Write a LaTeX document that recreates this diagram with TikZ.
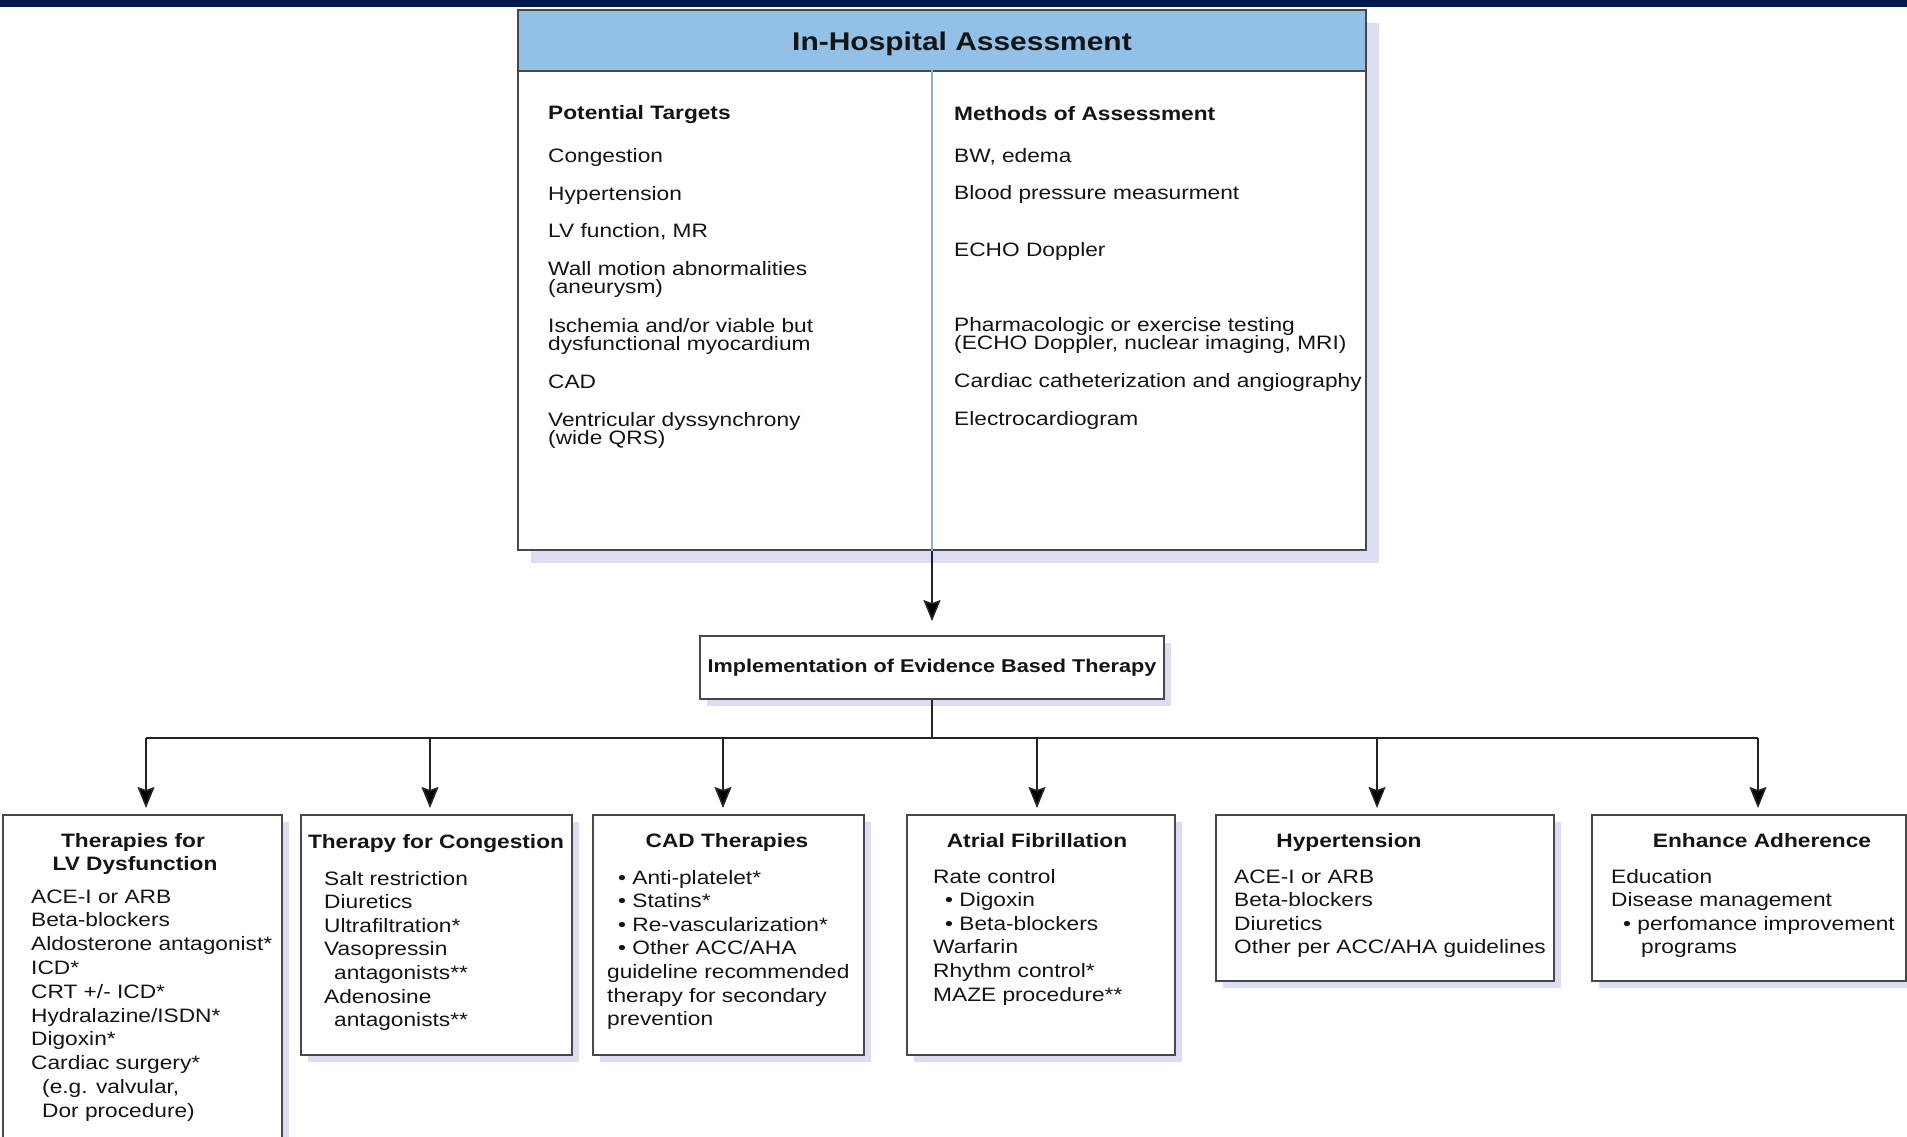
\documentclass[tikz,border=0pt]{standalone}
\usepackage{fontspec}
\setmainfont{Liberation Sans}[FakeStretch=1.17]
\usetikzlibrary{arrows.meta,shadows}
\definecolor{navy}{RGB}{0,26,80}
\definecolor{headblue}{RGB}{146,192,230}
\definecolor{shadowcol}{RGB}{220,220,242}
\definecolor{bordercol}{RGB}{72,72,72}
\definecolor{conncol}{RGB}{35,35,35}
\definecolor{divcol}{RGB}{140,180,210}
\definecolor{inkcol}{RGB}{20,20,20}
\begin{document}
\begin{tikzpicture}[x=1pt,y=-1pt,
  panel/.style={draw=bordercol, line width=1.8pt, fill=white, inner sep=0pt, anchor=north west,
    drop shadow={shadow xshift=#1, shadow yshift=-#1, fill=shadowcol, opacity=1}},
  panel/.default=7pt,
  item/.style={anchor=base west, inner sep=0pt, text=inkcol, font=\fontsize{19.4}{19}\selectfont},
  head/.style={anchor=base, inner sep=0pt, text=inkcol, font=\fontsize{19.4}{19}\selectfont\bfseries},
  headw/.style={anchor=base west, inner sep=0pt, text=inkcol, font=\fontsize{19.4}{19}\selectfont\bfseries},
  conn/.style={draw=conncol, line width=1.6pt},
  arr/.style={conn, -{Stealth[length=21pt,width=17pt,inset=3pt,fill=black]}},
]
\useasboundingbox (0,0) rectangle (1907,1136);
\clip (0,0) rectangle (1907,1136);

% top navy band
\fill[navy] (0,0) rectangle (1907,7);

% main assessment box
\node[panel=13pt, minimum width=848pt, minimum height=540pt] (main) at (517,9) {};
\node[draw=bordercol, line width=1.8pt, fill=headblue, anchor=north west, inner sep=0pt,
      minimum width=848pt, minimum height=61pt] (hdr) at (main.north west) {};
\node[anchor=base, inner sep=0pt, text=inkcol, font=\fontsize{25.6}{26}\selectfont\bfseries]
      (htitle) at (962,50) {In-Hospital Assessment};
\coordinate (divtop) at (932,70);
\draw[divcol, line width=1.6pt] (divtop) -- (divtop |- main.south);

% left column
\node[headw] (pthead) at (548,119) {Potential Targets};
\node[item] (pt1) at (548,162) {Congestion};
\node[item] (pt2) at (548,200) {Hypertension};
\node[item] (pt3) at (548,237) {LV function, MR};
\node[item] (pt4a) at (548,275) {Wall motion abnormalities};
\node[item] (pt4b) at (548,293.5) {(aneurysm)};
\node[item] (pt5a) at (548,332) {Ischemia and/or viable but};
\node[item] (pt5b) at (548,350.5) {dysfunctional myocardium};
\node[item] (pt6) at (548,388) {CAD};
\node[item] (pt7a) at (548,426) {Ventricular dyssynchrony};
\node[item] (pt7b) at (548,444.5) {(wide QRS)};

% right column
\node[headw] (mahead) at (954,120) {Methods of Assessment};
\node[item] (ma1) at (954,162) {BW, edema};
\node[item] (ma2) at (954,199) {Blood pressure measurment};
\node[item] (ma3) at (954,256) {ECHO Doppler};
\node[item] (ma4a) at (954,331) {Pharmacologic or exercise testing};
\node[item] (ma4b) at (954,349.5) {(ECHO Doppler, nuclear imaging, MRI)};
\node[item] (ma5) at (954,387) {Cardiac catheterization and angiography};
\node[item] (ma6) at (954,425) {Electrocardiogram};

% implementation box
\node[panel, anchor=center, minimum width=464pt, minimum height=63pt, text=inkcol,
      font=\fontsize{18.5}{19}\selectfont\bfseries] (impl) at (932,667.5)
      {Implementation of Evidence Based Therapy};
\draw[arr, shorten >=14pt] (divtop |- main.south) -- (impl.north);

% bottom boxes
\node[panel, minimum width=279pt, minimum height=345pt] (b1) at (2,814) {};
\node[panel, minimum width=271pt, minimum height=240pt] (b2) at (300,814) {};
\node[panel, minimum width=271pt, minimum height=240pt] (b3) at (592,814) {};
\node[panel, minimum width=268pt, minimum height=240pt] (b4) at (906,814) {};
\node[panel, minimum width=338pt, minimum height=166pt] (b5) at (1215,814) {};
\node[panel, minimum width=314pt, minimum height=166pt] (b6) at (1591,814) {};

% connectors
\coordinate (bus) at (932,738);
\coordinate (a1) at (146,738);
\coordinate (a2) at (430,738);
\coordinate (a3) at (723,738);
\coordinate (a4) at (1037,738);
\coordinate (a5) at (1377,738);
\coordinate (a6) at (1758,738);
\draw[conn] (impl.south) -- (bus);
\draw[conn] (a1) -- (a6);
\foreach \k in {1,...,6} \draw[arr, shorten >=6pt] (a\k) -- (a\k |- b\k.north);

% box 1
\node[head] (b1t1) at (133,847) {Therapies for};
\node[head] (b1t2) at (135,870) {LV Dysfunction};
\foreach \t [count=\i from 0] in {ACE-I or ARB, Beta-blockers, Aldosterone antagonist*, ICD*,
   CRT +/- ICD*, Hydralazine/ISDN*, Digoxin*, Cardiac surgery*,
   {\hspace*{11pt}(e.g. valvular,}, \hspace*{11pt}Dor procedure)}
   \node[item] (b1i\i) at (31,903+23.8*\i) {\t};

% box 2
\node[head] (b2t) at (436,848) {Therapy for Congestion};
\foreach \t [count=\i from 0] in {Salt restriction, Diuretics, Ultrafiltration*, Vasopressin,
   \hspace*{10pt}antagonists**, Adenosine, \hspace*{10pt}antagonists**}
   \node[item] (b2i\i) at (324,885+23.6*\i) {\t};

% box 3
\node[head] (b3t) at (727,847) {CAD Therapies};
\foreach \t [count=\i from 0] in {\hspace*{11pt}• Anti-platelet*, \hspace*{11pt}• Statins*,
   \hspace*{11pt}• Re-vascularization*, \hspace*{11pt}• Other ACC/AHA,
   guideline recommended, therapy for secondary, prevention}
   \node[item] (b3i\i) at (607,884+23.6*\i) {\t};

% box 4
\node[head] (b4t) at (1037,847) {Atrial Fibrillation};
\foreach \t [count=\i from 0] in {Rate control, \hspace*{12pt}• Digoxin, \hspace*{12pt}• Beta-blockers,
   Warfarin, Rhythm control*, MAZE procedure**}
   \node[item] (b4i\i) at (933,883+23.6*\i) {\t};

% box 5
\node[head] (b5t) at (1349,847) {Hypertension};
\foreach \t [count=\i from 0] in {ACE-I or ARB, Beta-blockers, Diuretics, Other per ACC/AHA guidelines}
   \node[item] (b5i\i) at (1234,883+23.6*\i) {\t};

% box 6
\node[head] (b6t) at (1762,847) {Enhance Adherence};
\foreach \t [count=\i from 0] in {Education, Disease management,
   \hspace*{12pt}• perfomance improvement, \hspace*{30pt}programs}
   \node[item] (b6i\i) at (1611,883+23.6*\i) {\t};
\end{tikzpicture}
\end{document}
